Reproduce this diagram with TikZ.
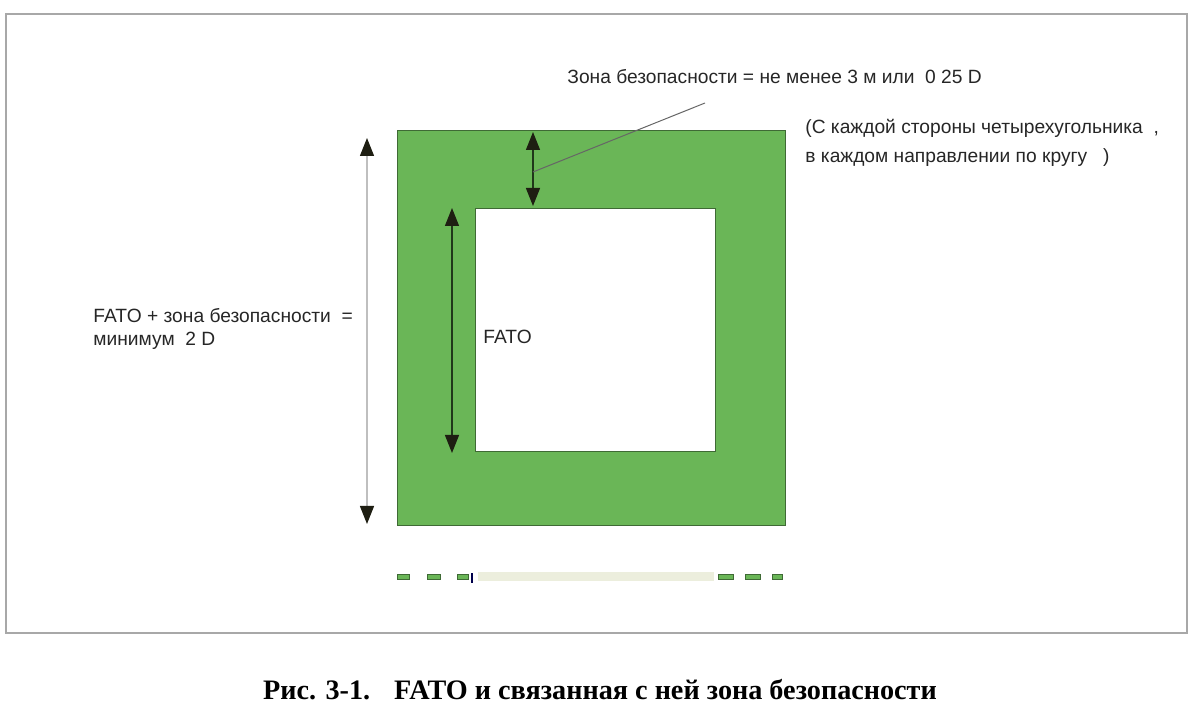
\documentclass[tikz,border=0pt]{standalone}
\usepackage{fontspec}
\setmainfont{Liberation Sans}
\newfontfamily\capfont{Liberation Serif}
\usetikzlibrary{arrows.meta}
\definecolor{zone}{HTML}{6AB657}
\definecolor{zoneedge}{HTML}{3F6A35}
\definecolor{headc}{HTML}{1E1E12}
\definecolor{framec}{HTML}{A8A8A8}
\definecolor{fbar}{HTML}{ECEEDD}
\tikzset{
  lbl/.style={font=\fontsize{9.6}{11}\selectfont, inner sep=0pt, anchor=west, text=black!85},
  dimarrow/.style={{Triangle[width=7pt,length=9pt,color=headc]}-{Triangle[width=7pt,length=9pt,color=headc]}, line width=0.6pt},
  dashbox/.style={draw=zoneedge, fill=zone, line width=0.5pt, minimum height=2.6pt, inner sep=0pt, anchor=west}
}
\begin{document}
\begin{tikzpicture}[x=0.5pt,y=-0.5pt]
\useasboundingbox (0,0) rectangle (1200,716);
% frame
\draw[framec, line width=0.6pt] (6,14) rectangle (1187,633);
% green zone and FATO
\node[draw=zoneedge, fill=zone, line width=0.6pt, minimum width=194pt, minimum height=197.5pt, inner sep=0pt, anchor=north west] (zone) at (397,130) {};
\node[draw=zoneedge, fill=white, line width=0.5pt, minimum width=120pt, minimum height=121.5pt, inner sep=0pt, anchor=north west] (fato) at (475,208) {};
% coordinates for dimension arrows
\coordinate (a1) at (367,138);
\coordinate (a2) at (367,524);
\coordinate (b1) at (452,208);
\coordinate (b2) at (452,453);
\coordinate (c1) at (533,132);
\coordinate (c2) at (533,206);
\coordinate (lead1) at (533,172);
\coordinate (lead2) at (705,103);
\draw[dimarrow, draw=black!25] (a1) -- (a2);
\draw[dimarrow, draw=black!70!zone] (b1) -- (b2);
\draw[dimarrow, draw=black!70!zone] (c1) -- (c2);
\draw[black!60, line width=0.5pt] (lead1) -- (lead2);
% labels
\node[lbl] (t1) at (567,77) {Зона безопасности = не менее 3 м или \ 0 25 D};
\node[lbl] (t2) at (805,128) {(С каждой стороны четырехугольника \ ,};
\node[lbl] (t3) at (805,158) {в каждом направлении по кругу \ \ )};
\node[lbl] (t4) at (93,316) {FATO + зона безопасности \ =};
\node[lbl] (t5) at (93,341) {минимум \ 2 D};
\node[lbl] (t6) at (483,337) {FATO};
% dashed line below
\node[fill=fbar, minimum width=118pt, minimum height=4.5pt, inner sep=0pt, anchor=west] (bar) at (478,577) {};
\node[dashbox, minimum width=6pt] (d1) at (397,577) {};
\node[dashbox, minimum width=6.5pt] (d2) at (427,577) {};
\node[dashbox, minimum width=5.5pt] (d3) at (457,577) {};
\node[fill=blue!30!black, minimum width=1.2pt, minimum height=5pt, inner sep=0pt] (tick) at (472,578) {};
\node[dashbox, minimum width=7.5pt] (d4) at (718,577) {};
\node[dashbox, minimum width=7.5pt] (d5) at (745,577) {};
\node[dashbox, minimum width=5pt] (d6) at (772,577) {};
% caption
\node[font=\capfont\bfseries\fontsize{14.1}{16}\selectfont, inner sep=0pt] (cap) at (600,690) {Рис. 3-1.\hspace{12pt}FATO и связанная с ней зона безопасности};
\end{tikzpicture}
\end{document}
